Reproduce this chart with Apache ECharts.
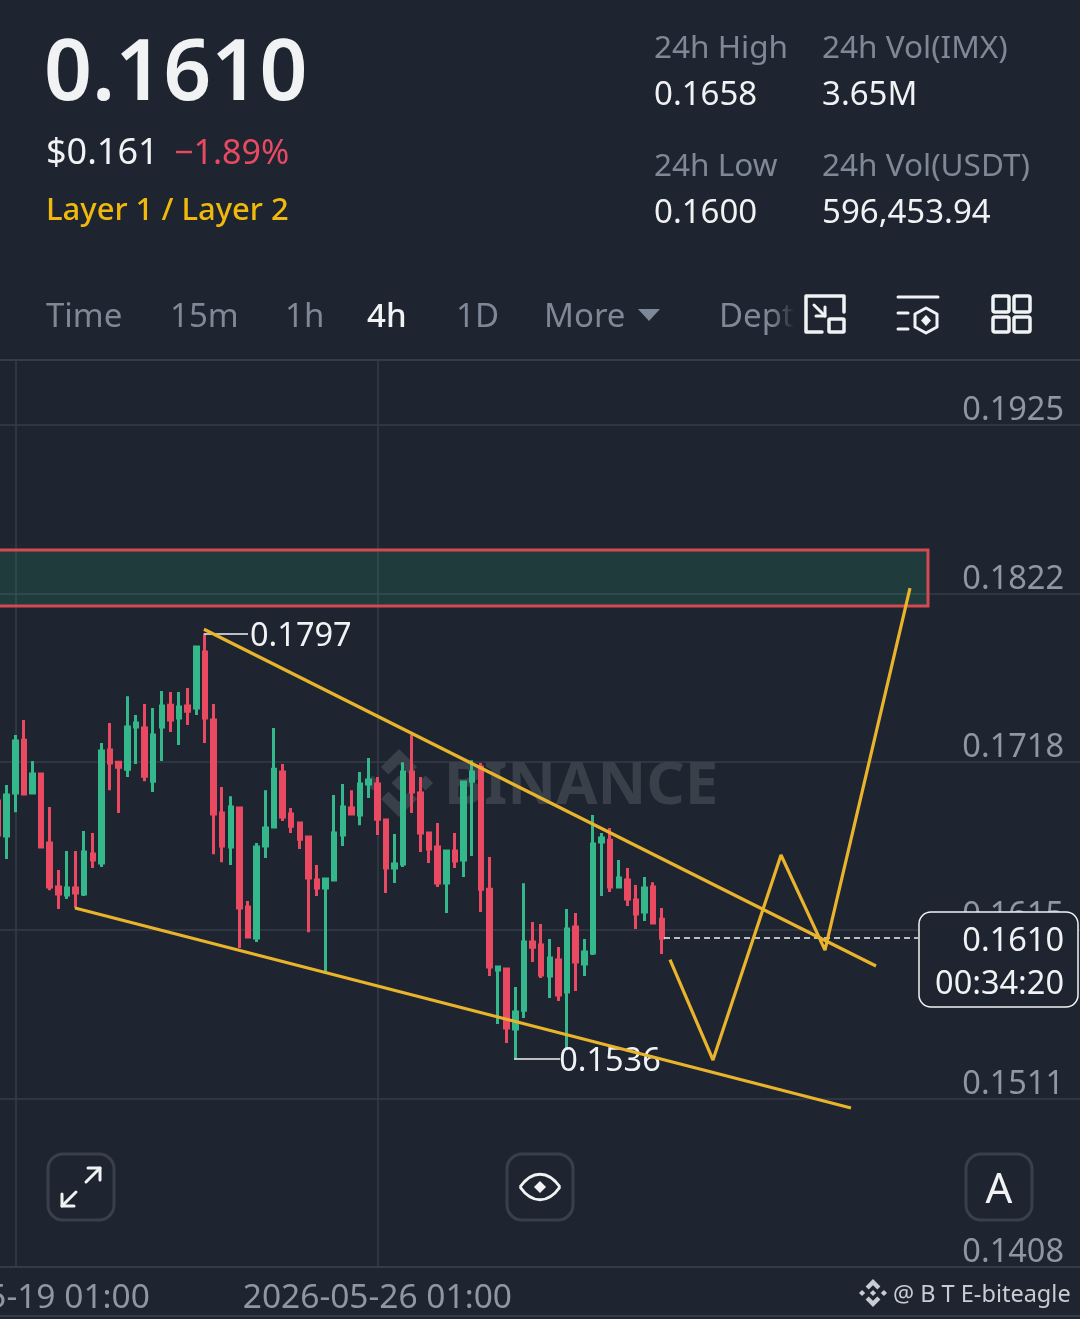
<!DOCTYPE html>
<html><head><meta charset="utf-8">
<style>html,body{margin:0;padding:0;background:#1e2530}#c{width:1080px;height:1319px}</style>
<script src="https://cdn.jsdelivr.net/npm/echarts@6/dist/echarts.min.js"></script>
</head><body><div id="c"></div>
<script>
// ---------- data ----------
const openPrices = [.16941,.16726,.16990,.17315,.16990,.17107,.16683,.16413,.16364,.16407,.16370,.16616,.16560,.17254,.17180,.17137,.17395,.17389,.17063,.17395,.17530,.17451,.17524,.17512,.17856,.17438,.16867,.16659,.16898,.16290,.16100,.16665,.16781,.17119,.16861,.16806,.16720,.16456,.16407,.16456,.16732,.16898,.16855,.17046,.17046,.16824,.16530,.16554,.17119,.16990,.16745,.16659,.16438,.16634,.16579,.17063,.17150,.16400,.15903,.15910,.15541,.15657,.16075,.16057,.15867,.15965,.15769,.16167,.15940,.16008,.16690,.16701,.16413,.16456,.16333,.16259,.16413,.16216];
const closePrices = [.16732,.16978,.17310,.16984,.17107,.16659,.16413,.16370,.16407,.16376,.16628,.16579,.17248,.17174,.17149,.17395,.17420,.17094,.17346,.17524,.17438,.17518,.17493,.17887,.17451,.16861,.16665,.16904,.16284,.16106,.16659,.16775,.17137,.16843,.16787,.16707,.16468,.16407,.16462,.16745,.16904,.16861,.17046,.17071,.16830,.16530,.16554,.17119,.16997,.16745,.16646,.16438,.16634,.16573,.17058,.17119,.16400,.15922,.15922,.15547,.15646,.16075,.16044,.15873,.15977,.15750,.16155,.15952,.16014,.16677,.16714,.16413,.16468,.16339,.16247,.16407,.16192,.16100];
const lowPrices = [.16701,.16585,.16873,.16978,.16984,.16659,.16394,.16278,.16339,.16284,.16358,.16530,.16536,.17008,.16867,.17088,.17168,.17063,.16997,.17187,.17365,.17285,.17408,.17469,.17297,.16615,.16566,.16548,.16038,.16106,.16075,.16591,.16781,.16818,.16745,.16646,.16136,.16358,.15891,.16456,.16665,.16861,.16793,.16960,.16732,.16376,.16438,.16536,.16867,.16628,.16560,.16413,.16253,.16530,.16474,.16603,.16259,.15867,.15572,.15455,.15360,.15609,.15952,.15854,.15731,.15713,.15412,.15774,.15867,.15996,.16358,.16382,.16407,.16296,.16155,.16204,.16192,.16002];
const highPrices = [.17008,.17039,.17346,.17438,.17187,.17107,.16904,.16517,.16634,.16634,.16757,.16745,.17297,.17420,.17180,.17585,.17469,.17537,.17512,.17617,.17611,.17611,.17635,.17887,.17970,.17537,.17027,.16971,.16898,.16327,.16683,.17008,.17389,.17168,.16898,.16806,.16720,.16548,.16462,.16978,.17046,.17008,.17119,.17206,.17089,.16824,.16739,.17180,.17346,.17089,.16745,.16806,.16634,.16745,.17058,.17192,.17174,.16597,.15922,.15916,.15799,.16437,.16198,.16186,.16094,.16045,.16278,.16253,.16094,.16855,.16745,.16775,.16579,.16530,.16425,.16474,.16443,.16284];
const priceTicks = [0.1408,0.15114,0.16148,0.17182,0.18216,0.1925];
const timeTicks = ['2026-05-19 01:00','2026-05-26 01:00'];
const upperTrend = [[24.39,.17996],[102.34,.15928]];
const lowerTrend = [[9.43,.16284],[99.44,.15056]];
const forecastPath = [[78.44,.15968],[83.43,.15351],[91.32,.16610],[96.42,.16026],[106.28,.18249]];
const resistanceZone = {from:0, to:108.37, top:.18482, bottom:.18139};
const lastPrice = 0.1610, highMark = 0.1797, lowMark = 0.1536;
const statLabels = ['24h High','24h Vol(IMX)','24h Low','24h Vol(USDT)'];
const statValues = ['0.1658','3.65M','0.1600','596,453.94'];
const tabs = [['Time',46],['15m',170],['1h',285],['4h',367],['1D',456],['More',544],['Dept',719]];
const BAND_COUNT = 126;

const candles = openPrices.map((o,i)=>[o,closePrices[i],lowPrices[i],highPrices[i]]);
const pad = n => String(n).padStart(2,'0');
const categories = Array.from({length:BAND_COUNT},(_,i)=>{
  const d = new Date(Date.UTC(2026,4,18,17)+i*4*3600e3);
  return d.getUTCFullYear()+'-'+pad(d.getUTCMonth()+1)+'-'+pad(d.getUTCDate())+' '+pad(d.getUTCHours())+':00';
});

// ---------- style ----------
const BG='#1e2530', GRID='#363c47', GREEN='#34b78a', RED='#e94a62', YEL='#e9b42c', GRAY='#7f8896', AXIS='#8f97a3', WHITE='#f1f2f4';
const FF='"Noto Sans"';
const txt=(text,x,y,size,fill,opt={})=>({type:'text',z:opt.z||50,style:{text,x,y,font:(opt.w||400)+' '+size+'px '+FF,fill,textAlign:opt.a||'left',textVerticalAlign:'middle'}});
const pl=(pts,c,w,z)=>({type:'polyline',z:z||50,shape:{points:pts},style:{fill:null,stroke:c,lineWidth:w,lineCap:'round',lineJoin:'round'}});
const pg=(pts,c,w,z)=>({type:'polygon',z:z||50,shape:{points:pts},style:{fill:null,stroke:c,lineWidth:w,lineJoin:'round'}});
const bz=(a,b,c1,c2,c,w,z)=>({type:'bezierCurve',z:z||50,shape:{x1:a[0],y1:a[1],x2:b[0],y2:b[1],cpx1:c1[0],cpy1:c1[1],cpx2:c2[0],cpy2:c2[1]},style:{fill:null,stroke:c,lineWidth:w}});
const poly=(pts,c,z)=>({type:'polygon',z:z||50,shape:{points:pts},style:{fill:c}});
const line=(x1,y1,x2,y2,c,w,z)=>({type:'line',z:z||50,shape:{x1,y1,x2,y2},style:{stroke:c,lineWidth:w,lineCap:'round'}});
const rr=(x,y,w,h,r,c,lw,fill,z)=>({type:'rect',z:z||50,shape:{x,y,width:w,height:h,r},style:{fill:fill||null,stroke:c,lineWidth:lw}});
function logo(cx,cy,R,c,z){
  const P=a=>a.map(p=>[cx+p[0]*R,cy+p[1]*R]);
  const d=(x,y,r)=>[[x,y-r],[x+r,y],[x,y+r],[x-r,y]];
  const top=[[0,-1],[.53,-.47],[.31,-.25],[0,-.56],[-.31,-.25],[-.53,-.47]];
  return [d(0,0,.22),d(.78,0,.22),d(-.78,0,.22),top,top.map(p=>[p[0],-p[1]])].map(s=>poly(P(s),c,z));
}

const graphics=[
  txt('0.1610',44,76,84,WHITE,{w:600}),
  txt('$0.161',46,154,36,WHITE),
  txt('\u22121.89%',174,154,34,RED),
  txt('Layer 1 / Layer 2',46,211,31,'#f0b90b',{w:500}),
  txt(statLabels[0],654,49,31.5,GRAY), txt(statLabels[1],822,49,31.5,GRAY),
  txt(statValues[0],654,96,33,WHITE), txt(statValues[1],822,96,33,WHITE),
  txt(statLabels[2],654,167,31.5,GRAY), txt(statLabels[3],822,167,31.5,GRAY),
  txt(statValues[2],654,214,33,WHITE), txt(statValues[3],822,214,33,WHITE),
  ...tabs.map(t=>txt(t[0],t[1],318,33,t[0]==='4h'?WHITE:GRAY,{w:t[0]==='4h'?500:400})),
  poly([[638,309],[660,309],[649,321]],GRAY),
  {type:'rect',z:51,shape:{x:772,y:295,width:28,height:42},style:{fill:{type:'linear',x:0,y:0,x2:1,y2:0,colorStops:[{offset:0,color:'rgba(30,37,48,0)'},{offset:.8,color:BG},{offset:1,color:BG}]}}},
  // toolbar icons
  pl([[822,332],[806,332],[806,296],[844,296],[844,312]],WHITE,3.5),
  rr(829,319,15,13,1,WHITE,3.5),
  pl([[814,305],[825,316]],WHITE,3), pl([[825,307],[825,316],[816,316]],WHITE,3),
  line(898,297,938,297,WHITE,3), line(898,313,908,313,WHITE,3), line(898,329,908,329,WHITE,3),
  pg([[926,308],[937,314],[937,327],[926,333],[915,327],[915,314]],WHITE,3),
  poly([[926,315],[931,320.5],[926,326],[921,320.5]],WHITE),
  rr(993,296,16,16,2,WHITE,3.5), rr(1014,296,16,16,2,WHITE,3.5),
  rr(993,317,16,15,2,WHITE,3.5), rr(1014,317,16,15,2,WHITE,3.5),
  line(0,360,1080,360,GRID,2),
  line(0,1316,1080,1316,GRID,2),
  // watermark
  ...logo(399,783,34,'#3a404a',1),
  {type:'text',z:1,style:{text:'BINANCE',x:444,y:787,font:'700 60px '+FF,fill:'#3a404a',textVerticalAlign:'middle'}},
  // buttons
  rr(48,1154,66,66,15,'#39404b',3,BG,60),
  pl([[62,1206],[76,1192]],WHITE,3,61), pl([[62,1194],[62,1206],[74,1206]],WHITE,3,61),
  pl([[86,1182],[100,1168]],WHITE,3,61), pl([[88,1168],[100,1168],[100,1180]],WHITE,3,61),
  rr(507,1154,66,66,15,'#39404b',3,BG,60),
  bz([520,1187],[560,1187],[532,1170],[548,1170],WHITE,3,61),
  bz([520,1187],[560,1187],[532,1204],[548,1204],WHITE,3,61),
  poly([[540,1181],[546,1187],[540,1193],[534,1187]],WHITE,61),
  rr(966,1154,66,66,15,'#39404b',3,BG,60),
  txt('A',999,1191,42,WHITE,{a:'center',z:61}),
  // last price tag
  rr(919,912,159,95,12,WHITE,1.5,BG,70),
  txt('0.1610',1064,942,32.5,WHITE,{a:'right',z:71}),
  txt('00:34:20',1064,985,32.5,WHITE,{a:'right',z:71}),
  // credit
  ...logo(873,1293,14,'#c9ccd2',60),
  txt('@ B T E-biteagle',893,1295,23.5,'#c9ccd2',{z:60})
];

const noAnim={animation:false,silent:true};
const lineSeries=(data,extra={})=>Object.assign({type:'line',xAxisIndex:1,yAxisIndex:0,data,symbol:'none',z:6,lineStyle:{color:YEL,width:3.2},...noAnim},extra);
const markLabel=(t,x1,x2,p,dx)=>[{coord:[x1,p]},{coord:[x2,p],label:{show:true,formatter:t,position:'end',distance:2,offset:[dx,3],color:WHITE,fontSize:32.5,fontFamily:FF}}];

const chart=echarts.init(document.getElementById('c'),null,{renderer:'canvas'});
chart.setOption({
  animation:false, backgroundColor:BG,
  grid:{left:-6.3,top:361,width:1086.3,height:906,containLabel:false,outerBoundsMode:'none'},
  xAxis:[
    {type:'category',data:categories,boundaryGap:true,
     axisLine:{show:true,lineStyle:{color:GRID,width:2}},axisTick:{show:false,alignWithLabel:true},
     axisLabel:{interval:(i,v)=>timeTicks.includes(v),color:AXIS,fontSize:33.5,fontFamily:FF,margin:14,hideOverlap:false},
     splitLine:{show:true,alignWithLabel:true,interval:(i,v)=>timeTicks.includes(v),lineStyle:{color:GRID,width:1.5}}},
    {type:'value',min:0,max:BAND_COUNT,show:false,splitLine:{show:false}}
  ],
  yAxis:[{type:'value',position:'right',min:0.1408,max:0.19643,scale:true,
    axisLine:{show:false},
    axisTick:{show:false,customValues:priceTicks},
    axisLabel:{inside:true,customValues:priceTicks,formatter:v=>v.toFixed(4),color:AXIS,fontSize:32.5,fontFamily:FF,margin:16,align:'right',verticalAlign:'bottom',lineHeight:28},
    splitLine:{show:true,lineStyle:{color:GRID,width:1.5}}}],
  graphic:graphics,
  series:[
    {type:'candlestick',name:'IMX/USDT 4h',data:candles,barWidth:4,z:4,animation:false,silent:true,
     itemStyle:{color:GREEN,color0:RED,borderColor:GREEN,borderColor0:RED,borderWidth:3}},
    lineSeries(upperTrend,{markArea:{silent:true,z:1,itemStyle:{color:'rgba(46,189,133,.15)',borderColor:'#d24a52',borderWidth:3},
      data:[[{coord:[resistanceZone.from,resistanceZone.top]},{coord:[resistanceZone.to,resistanceZone.bottom]}]]}}),
    lineSeries(lowerTrend),
    lineSeries(forecastPath),
    lineSeries([],{markLine:{silent:true,symbol:'none',animation:false,label:{show:false},
      lineStyle:{color:WHITE,width:1.5,type:[6,4]},data:[[{coord:[77.75,lastPrice]},{coord:[107.2,lastPrice]}]]}}),
    lineSeries([],{markLine:{silent:true,symbol:'none',animation:false,lineStyle:{color:WHITE,width:1.5,type:'solid'},
      data:[markLabel('0.1797',24.4,29.5,highMark,0),markLabel('0.1536',60.35,65.7,lowMark,-3)]}})
  ]
});
</script></body></html>
